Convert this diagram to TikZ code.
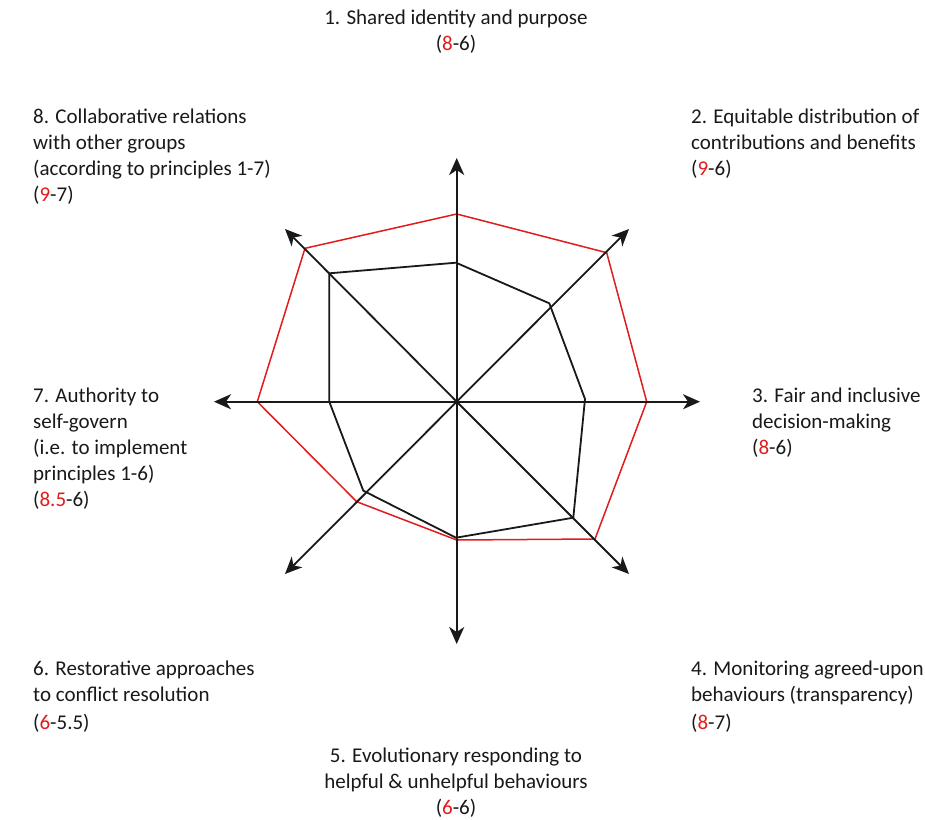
\documentclass[tikz,border=0pt]{standalone}
\usepackage{fontspec}
\setmainfont{Carlito}
\usetikzlibrary{arrows.meta}
\definecolor{pred}{RGB}{225,28,28}
\definecolor{ink}{RGB}{25,25,25}
\newcommand{\rd}[1]{\textcolor{pred}{#1}}
\tikzset{
  axisline/.style={line width=1.8pt, draw=ink, -{Stealth[length=17pt,width=15pt,inset=5pt]}},
  redpoly/.style={line width=1.5pt, draw=pred, line join=miter},
  blackpoly/.style={line width=1.8pt, draw=ink, line join=miter},
  lbl/.style={inner sep=0pt, text=ink, font=\fontsize{21}{26}\selectfont}
}
\begin{document}
\begin{tikzpicture}[x=1pt,y=-1pt]
\useasboundingbox[fill=white] (0,0) rectangle (925,819);
% centre and axis ends
\coordinate (O) at (456.7,401.7);
\coordinate (aN) at (456.7,158);
\coordinate (aS) at (456.7,644);
\coordinate (aE) at (700,401.7);
\coordinate (aW) at (214,401.7);
\coordinate (aNE) at (629,229);
\coordinate (aNW) at (285,229);
\coordinate (aSW) at (285,574);
\coordinate (aSE) at (629,574);
% red polygon
\coordinate (r1) at (456.7,214);
\coordinate (r2) at (606.7,252.7);
\coordinate (r3) at (646.7,401.7);
\coordinate (r4) at (595,539);
\coordinate (r5) at (456.7,540);
\coordinate (r6) at (356.7,501.7);
\coordinate (r7) at (257.3,401.7);
\coordinate (r8) at (305,248.3);
% black polygon
\coordinate (b1) at (456,262.7);
\coordinate (b2) at (549.3,303.3);
\coordinate (b3) at (585,399);
\coordinate (b4) at (573.3,517.7);
\coordinate (b5) at (456,537.7);
\coordinate (b6) at (363.3,490.7);
\coordinate (b7) at (329.3,401.7);
\coordinate (b8) at (329.3,273.3);
\draw[redpoly] (r1) -- (r2) -- (r3) -- (r4) -- (r5) -- (r6) -- (r7) -- (r8) -- cycle;
\draw[blackpoly] (b1) -- (b2) -- (b3) -- (b4) -- (b5) -- (b6) -- (b7) -- (b8) -- cycle;
\foreach \e in {aN,aS,aE,aW,aNE,aNW,aSW,aSE}{\draw[axisline] (O) -- (\e);}
% labels
\node[lbl, anchor=base] (t1) at (456,24) {\begin{tabular}[t]{@{}c@{}}1. Shared identity and purpose\\(\rd{8}-6)\end{tabular}};
\node[lbl, anchor=base west] (t2) at (691,123) {\begin{tabular}[t]{@{}l@{}}2. Equitable distribution of\\contributions and benefits\\(\rd{9}-6)\end{tabular}};
\node[lbl, anchor=base west] (t3) at (752,402) {\begin{tabular}[t]{@{}l@{}}3. Fair and inclusive\\decision-making\\(\rd{8}-6)\end{tabular}};
\node[lbl, anchor=base west] (t4) at (691,675) {\begin{tabular}[t]{@{}l@{}}4. Monitoring agreed-upon\\behaviours (transparency)\\[2pt](\rd{8}-7)\end{tabular}};
\node[lbl, anchor=base] (t5) at (456,762) {\begin{tabular}[t]{@{}c@{}}5. Evolutionary responding to\\helpful \& unhelpful behaviours\\(\rd{6}-6)\end{tabular}};
\node[lbl, anchor=base west] (t6) at (33,675) {\begin{tabular}[t]{@{}l@{}}6. Restorative approaches\\to conflict resolution\\[2pt](\rd{6}-5.5)\end{tabular}};
\node[lbl, anchor=base west] (t7) at (33,402) {\begin{tabular}[t]{@{}l@{}}7. Authority to\\self-govern\\(i.e. to implement\\principles 1-6)\\(\rd{8.5}-6)\end{tabular}};
\node[lbl, anchor=base west] (t8) at (33,123) {\begin{tabular}[t]{@{}l@{}}8. Collaborative relations\\with other groups\\(according to principles 1-7)\\(\rd{9}-7)\end{tabular}};
\end{tikzpicture}
\end{document}
